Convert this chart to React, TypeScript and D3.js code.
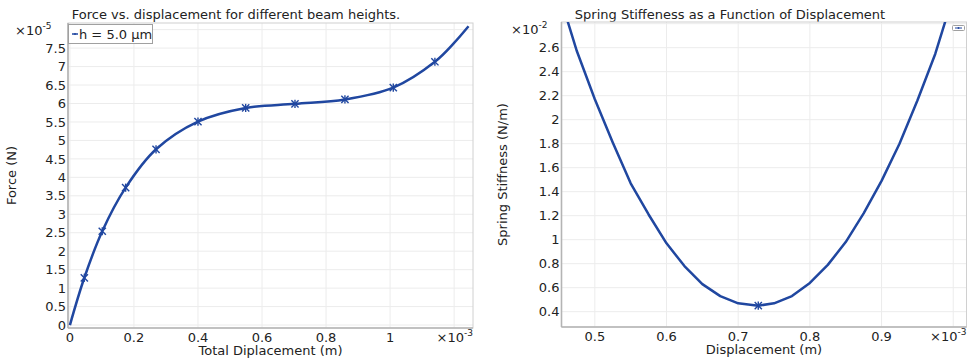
import React from "react";
import * as d3 from "d3";

// Left chart: Force vs displacement (x ×1e-3 m, y ×1e-5 N)
const forceX = [0, 0.045, 0.101, 0.174, 0.269, 0.4, 0.549, 0.703, 0.859, 1.01, 1.14, 1.2, 1.245];
const forceY = [0, 1.28, 2.54, 3.72, 4.76, 5.51, 5.88, 5.99, 6.11, 6.43, 7.13, 7.64, 8.09];
const forceMarkerIdx = [1, 2, 3, 4, 5, 6, 7, 8, 9, 10];
const forceXTicks = [0, 0.2, 0.4, 0.6, 0.8, 1];
const forceXGrid = [0, 0.2, 0.4, 0.6, 0.8, 1, 1.2];
const forceYTicks = [0, 0.5, 1, 1.5, 2, 2.5, 3, 3.5, 4, 4.5, 5, 5.5, 6, 6.5, 7, 7.5];
const forceYGrid = [0, 0.5, 1, 1.5, 2, 2.5, 3, 3.5, 4, 4.5, 5, 5.5, 6, 6.5, 7, 7.5, 8];

// Right chart: stiffness vs displacement (x ×1e-3 m, y ×1e-2 N/m)
const stiffX = [0.46, 0.475, 0.5, 0.525, 0.55, 0.575, 0.6, 0.625, 0.65, 0.675, 0.7, 0.728, 0.75, 0.775, 0.8, 0.825, 0.85, 0.875, 0.9, 0.925, 0.95, 0.975, 0.99];
const stiffY = [2.86, 2.57, 2.17, 1.81, 1.47, 1.21, 0.97, 0.78, 0.63, 0.53, 0.47, 0.45, 0.47, 0.53, 0.64, 0.79, 0.98, 1.22, 1.49, 1.8, 2.16, 2.55, 2.84];
const stiffMarkerIdx = [11];
const stiffXTicks = [0.5, 0.6, 0.7, 0.8, 0.9];
const stiffXGrid = [0.5, 0.6, 0.7, 0.8, 0.9, 1.0];
const stiffYTicks = [0.4, 0.6, 0.8, 1, 1.2, 1.4, 1.6, 1.8, 2, 2.2, 2.4, 2.6];
const stiffYGrid = [0.4, 0.6, 0.8, 1, 1.2, 1.4, 1.6, 1.8, 2, 2.2, 2.4, 2.6, 2.8];

const BLUE = "#2047a0";
const FONT = "DejaVu Sans, sans-serif";

function Marker({ x, y }: { x: number; y: number }) {
  const r = 3.6;
  return (
    <g stroke={BLUE} strokeWidth={1.4}>
      <line x1={x - r} y1={y - r} x2={x + r} y2={y + r} />
      <line x1={x - r} y1={y + r} x2={x + r} y2={y - r} />
      <line x1={x} y1={y - r - 0.5} x2={x} y2={y + r + 0.5} />
    </g>
  );
}

type PanelProps = {
  left: number; right: number; top: number; bottom: number;
  xDomain: [number, number]; yDomain: [number, number];
  xs: number[]; ys: number[]; markers: number[];
  xTicks: number[]; xGrid: number[]; yTicks: number[]; yGrid: number[];
  title: string; titleX: number; xLabel: string; yLabel: string; yLabelX: number;
  yExp: string; yExpX: number; curve: any; clipId: string;
};

function Panel(p: PanelProps) {
  const x = d3.scaleLinear().domain(p.xDomain).range([p.left, p.right]);
  const y = d3.scaleLinear().domain(p.yDomain).range([p.bottom, p.top]);
  const pts: [number, number][] = p.xs.map((v, i) => [v, p.ys[i]]);
  const line = d3.line<[number, number]>().x(d => x(d[0])).y(d => y(d[1])).curve(p.curve);
  const fmt = (v: number) => String(+v.toFixed(2));
  return (
    <g fontFamily={FONT}>
      <defs>
        <clipPath id={p.clipId}>
          <rect x={p.left} y={p.top} width={p.right - p.left} height={p.bottom - p.top} />
        </clipPath>
      </defs>
      <text x={p.titleX} y={19} fontSize={13} textAnchor="middle" fill="#222">{p.title}</text>
      <rect x={p.left} y={p.top} width={p.right - p.left} height={p.bottom - p.top} fill="#fff" />
      {p.xGrid.map(v => (
        <line key={"gx" + v} x1={x(v)} x2={x(v)} y1={p.top} y2={p.bottom} stroke="#ececec" strokeWidth={1} />
      ))}
      {p.yGrid.map(v => (
        <line key={"gy" + v} x1={p.left} x2={p.right} y1={y(v)} y2={y(v)} stroke="#ececec" strokeWidth={1} />
      ))}
      <rect x={p.left} y={p.top} width={p.right - p.left} height={p.bottom - p.top} fill="none" stroke="#d0d0d0" strokeWidth={1} />
      <line x1={p.left} x2={p.right} y1={p.bottom} y2={p.bottom} stroke="#b4b4b4" strokeWidth={1.6} />
      <line x1={p.left} x2={p.left} y1={p.top} y2={p.bottom} stroke="#b4b4b4" strokeWidth={1.6} />
      <g clipPath={`url(#${p.clipId})`}>
        <path d={line(pts) || ""} fill="none" stroke={BLUE} strokeWidth={2.5} strokeLinejoin="round" />
        {p.markers.map(i => <Marker key={i} x={x(p.xs[i])} y={y(p.ys[i])} />)}
      </g>
      {p.yTicks.map(v => (
        <text key={"ty" + v} x={p.left - 2} y={y(v)} dy="0.36em" fontSize={13} textAnchor="end" fill="#222">{fmt(v)}</text>
      ))}
      {p.xTicks.map(v => (
        <text key={"tx" + v} x={x(v)} y={p.bottom + 13.5} fontSize={13} textAnchor="middle" fill="#222">{fmt(v)}</text>
      ))}
      <text x={p.right} y={p.bottom + 13.5} fontSize={13} textAnchor="end" fill="#222">
        ×10<tspan dy={-6} fontSize={9}>-3</tspan>
      </text>
      <text x={p.yExpX} y={p.top + 12} fontSize={13} textAnchor="start" fill="#222">
        ×10<tspan dy={-6} fontSize={9}>{p.yExp}</tspan>
      </text>
      <text x={(p.left + p.right) / 2} y={p.bottom + 27} fontSize={13} textAnchor="middle" fill="#222">{p.xLabel}</text>
      <text transform={`translate(${p.yLabelX},${(p.top + p.bottom) / 2}) rotate(-90)`} fontSize={13} textAnchor="middle" fill="#222">{p.yLabel}</text>
    </g>
  );
}

export default function App() {
  return (
    <svg width={970} height={360} style={{ position: "absolute", left: 0, top: 0, background: "#fff" }}>
      <rect width={970} height={360} fill="#fff" />
      <Panel
        left={68} right={473} top={23} bottom={328}
        xDomain={[-0.006, 1.259]} yDomain={[-0.08, 8.18]}
        xs={forceX} ys={forceY} markers={forceMarkerIdx}
        xTicks={forceXTicks} xGrid={forceXGrid} yTicks={forceYTicks} yGrid={forceYGrid}
        title="Force vs. displacement for different beam heights." titleX={236}
        xLabel="Total Diplacement (m)" yLabel="Force (N)" yLabelX={16}
        yExp="-5" yExpX={15} curve={d3.curveCatmullRom.alpha(0.5)} clipId="clipL"
      />
      <Panel
        left={561.5} right={966.5} top={22} bottom={327}
        xDomain={[0.4535, 1.0185]} yDomain={[0.2725, 2.814]}
        xs={stiffX} ys={stiffY} markers={stiffMarkerIdx}
        xTicks={stiffXTicks} xGrid={stiffXGrid} yTicks={stiffYTicks} yGrid={stiffYGrid}
        title="Spring Stiffeness as a Function of Displacement" titleX={730}
        xLabel="Displacement (m)" yLabel="Spring Stiffness (N/m)" yLabelX={507}
        yExp="-2" yExpX={511} curve={d3.curveLinear} clipId="clipR"
      />
      {/* Left legend */}
      <g fontFamily={FONT}>
        <rect x={68.5} y={24.5} width={84} height={19} fill="#fff" stroke="#a0a0a0" strokeWidth={1} />
        <line x1={72} x2={78} y1={34} y2={34} stroke={BLUE} strokeWidth={1.5} />
        <circle cx={75} cy={34} r={1} fill={BLUE} />
        <text x={79} y={39} fontSize={13} fill="#222">h = 5.0 µm</text>
      </g>
      {/* Right legend (tiny) */}
      <g>
        <rect x={952.5} y={25.5} width={12} height={5} fill="#fff" stroke="#a0a0a0" strokeWidth={1} rx={1} />
        <line x1={955} x2={962} y1={28} y2={28} stroke={BLUE} strokeWidth={1} />
        <circle cx={958.5} cy={28} r={0.9} fill={BLUE} />
      </g>
    </svg>
  );
}
